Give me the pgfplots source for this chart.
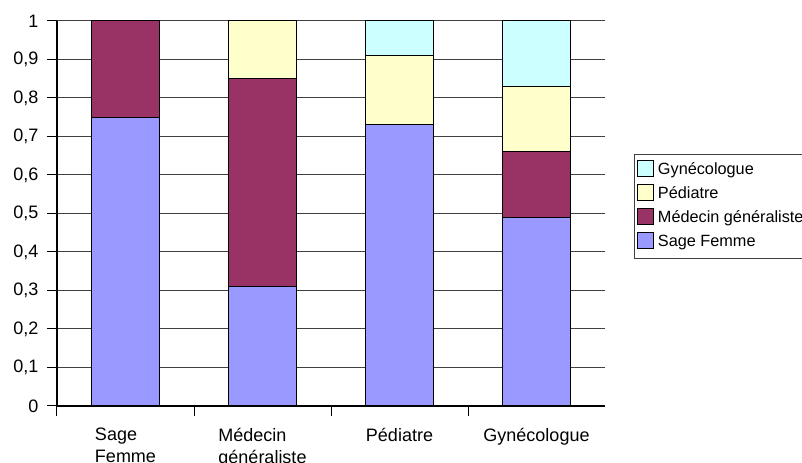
\documentclass[border=0pt]{standalone}
\usepackage{fontspec}
\setmainfont{Liberation Sans}
\usepackage{pgfplots}
\pgfplotsset{compat=1.18}
\definecolor{sf}{HTML}{9999FF}
\definecolor{mg}{HTML}{993366}
\definecolor{pe}{HTML}{FFFFCC}
\definecolor{gy}{HTML}{CCFFFF}
\begin{document}
\begin{tikzpicture}
\path[use as bounding box] (0,0) rectangle (601.5pt,347.25pt);
\begin{axis}[
  at={(42.75pt,42.75pt)}, anchor=south west,
  scale only axis, width=411pt, height=288.75pt,
  ybar stacked, bar width=51pt,
  xmin=-0.5, xmax=3.5, ymin=0, ymax=1,
  axis x line*=bottom, axis y line*=left,
  axis line style={-, black, line width=1pt},
  xtick={0,1,2,3},
  xticklabels={{Sage\\Femme},{Médecin\\généraliste},{Pédiatre},{Gynécologue}},
  major x tick style={draw=none},
  minor xtick={-0.5,0.5,1.5,2.5},
  ytick={0,0.1,0.2,0.3,0.4,0.5,0.6,0.7,0.8,0.9,1},
  tick align=outside, major tick length=7.5pt, minor tick length=7.5pt,
  tick style={black, line width=0.75pt},
  ymajorgrids, major grid style={black!75, line width=0.75pt},
  ticklabel style={font=\fontsize{13.5}{16.5}\selectfont},
  yticklabel style={xshift=-3pt, /pgf/number format/.cd, fixed, precision=1, use comma, assume math mode=true},
  xticklabel style={align=left, yshift=-5.5pt},
  legend style={at={(1.0529,0.6545)}, anchor=north west, draw=black!75, line width=0.75pt,
    font=\fontsize{12.2}{14}\selectfont, inner xsep=2pt, inner ysep=3pt, row sep=0pt,
    cells={anchor=west},
    nodes={inner xsep=3pt, inner ysep=3pt, text height=9pt, text depth=3pt}},
  legend image code/.code={\draw[#1, draw=black, line width=0.6pt] (0pt,-4.5pt) rectangle (12pt,7.5pt);},
  reverse legend,
]
\addplot[fill=sf, draw=black, line width=0.75pt] coordinates {(0,0.75) (1,0.31) (2,0.73) (3,0.49)};
\addplot[fill=mg, draw=black, line width=0.75pt] coordinates {(0,0.25) (1,0.54) (2,0) (3,0.17)};
\addplot[fill=pe, draw=black, line width=0.75pt] coordinates {(0,0) (1,0.15) (2,0.18) (3,0.17)};
\addplot[fill=gy, draw=black, line width=0.75pt] coordinates {(0,0) (1,0) (2,0.09) (3,0.17)};
\legend{Sage Femme, Médecin généraliste, Pédiatre, Gynécologue}
\end{axis}
\end{tikzpicture}
\end{document}
